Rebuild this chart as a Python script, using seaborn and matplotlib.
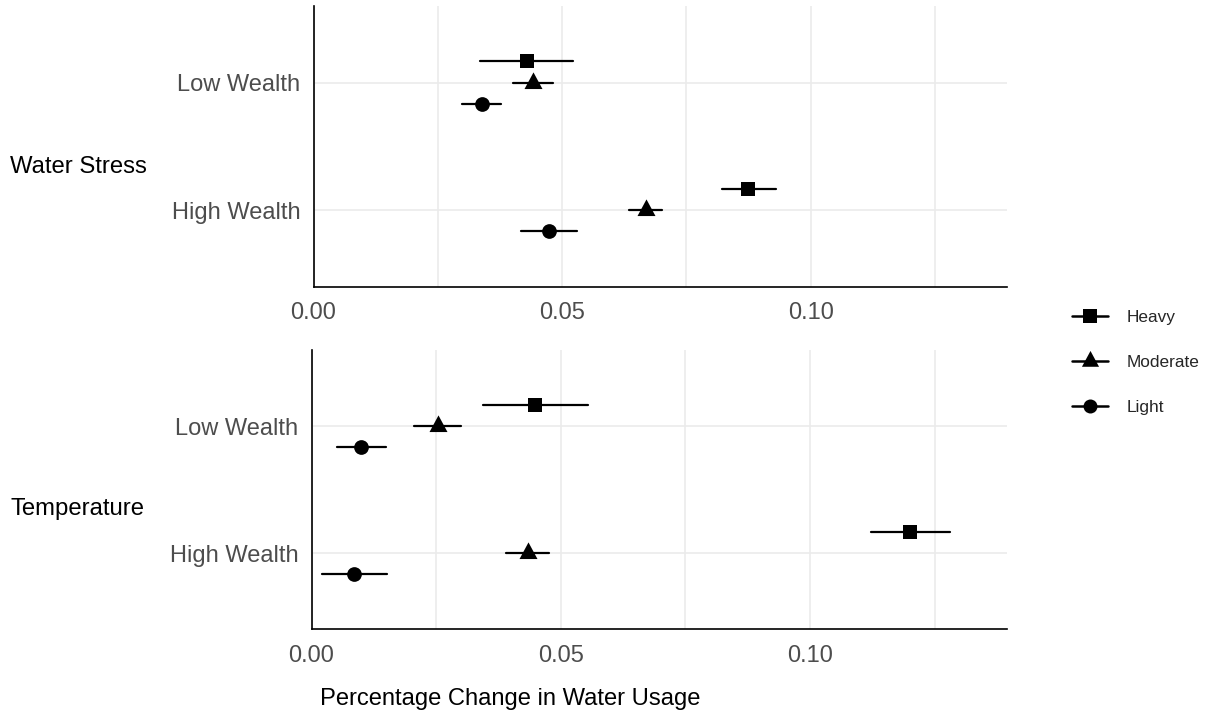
import numpy as np
import pandas as pd
import matplotlib
matplotlib.use("Agg")
import matplotlib.pyplot as plt
from matplotlib.lines import Line2D
import seaborn as sns

# ---------------- data ----------------
categories = ["Low Wealth", "High Wealth"]
series = ["Heavy", "Moderate", "Light"]
panels = ["Water Stress", "Temperature"]

# order: Low Wealth (Heavy, Moderate, Light), High Wealth (Heavy, Moderate, Light)
ws_est = [0.0429, 0.0442, 0.0338, 0.0875, 0.0668, 0.0474]
ws_low = [0.0335, 0.0402, 0.0299, 0.0822, 0.0635, 0.0418]
ws_high = [0.0522, 0.0481, 0.0378, 0.0930, 0.0702, 0.0531]

temp_est = [0.0449, 0.0253, 0.0100, 0.1201, 0.0434, 0.0086]
temp_low = [0.0343, 0.0205, 0.0051, 0.1123, 0.0391, 0.0022]
temp_high = [0.0554, 0.0300, 0.0150, 0.1281, 0.0477, 0.0151]

x_ticks = [0.00, 0.05, 0.10]
x_tick_labels = ["0.00", "0.05", "0.10"]
x_minor = [0.025, 0.075, 0.125]

# ---------------- style ----------------
sns.set_style("white")
plt.rcParams["font.family"] = ["Liberation Sans", "DejaVu Sans"]

TRI = [(0.0, 2 / 3), (-0.54, -1 / 3), (0.54, -1 / 3)]  # centroid-centred triangle
marker_map = {"Heavy": "s", "Moderate": TRI, "Light": "o"}
size_map = {"Heavy": 10.4, "Moderate": 16.0, "Light": 10.6}
palette = {s: "black" for s in series}


def long_frame(est, low, high):
    rows = []
    i = 0
    for c in categories:
        for s in series:
            for v in (low[i], est[i], high[i]):
                rows.append({"wealth": c, "intensity": s, "value": v})
            i += 1
    return pd.DataFrame(rows)


frames = [long_frame(ws_est, ws_low, ws_high), long_frame(temp_est, temp_low, temp_high)]

W, H = 1207, 713
fig = plt.figure(figsize=(W / 100, H / 100), dpi=100)

axes_px = [
    (313.5, 6.0, 1007.0, 286.7),
    (311.5, 350.0, 1007.0, 629.4),
]

grid_col = "#EBEBEB"
tick_col = "#4D4D4D"

for ax_px, df, title, base_y in zip(axes_px, frames, panels, [173.3, 515.0]):
    l, t, r, b = ax_px
    ax = fig.add_axes([l / W, (H - b) / H, (r - l) / W, (b - t) / H])
    sns.pointplot(
        data=df, x="value", y="wealth", hue="intensity",
        order=categories, hue_order=series, palette=palette,
        markers=[marker_map[s] for s in series], linestyles="none",
        dodge=1 / 3, estimator="median",
        errorbar=lambda v: (np.min(v), np.max(v)),
        markersize=10.4, markeredgewidth=0, linewidth=1.6,
        err_kws={"linewidth": 1.6}, legend=False, ax=ax,
    )
    # set per-series marker sizes
    for line in ax.lines:
        m = line.get_marker()
        if isinstance(m, str):
            if m == "s":
                line.set_markersize(size_map["Heavy"])
            elif m == "o":
                line.set_markersize(size_map["Light"])
        else:
            line.set_markersize(size_map["Moderate"])
        line.set_zorder(3)

    ax.set_xlim(0, 0.1395)
    ax.set_ylim(1.6, -0.6)
    ax.set_xticks(x_ticks)
    ax.set_xticklabels(x_tick_labels)
    ax.set_xticks(x_minor, minor=True)
    ax.set_yticks([0, 1])
    ax.set_yticklabels(categories)
    ax.grid(True, which="major", axis="both", color=grid_col, linewidth=1.2)
    ax.grid(True, which="minor", axis="x", color=grid_col, linewidth=1.2)
    ax.set_axisbelow(True)
    ax.tick_params(axis="both", which="both", length=0, labelsize=17, labelcolor=tick_col)
    ax.tick_params(axis="y", pad=9.5)
    ax.tick_params(axis="x", pad=11)
    for side in ("top", "right"):
        ax.spines[side].set_visible(False)
    for side in ("left", "bottom"):
        ax.spines[side].set_color("black")
        ax.spines[side].set_linewidth(1.2)
    ax.set_xlabel("")
    ax.set_ylabel("")
    fig.text(10.5 / W, (H - base_y) / H, title, fontsize=17.2, color="black",
             ha="left", va="baseline")

fig.text(510.4 / W, (H - 705.5) / H, "Percentage Change in Water Usage",
         fontsize=17.1, color="black", ha="center", va="baseline")

handles = [
    Line2D([0], [0], color="black", lw=1.8, marker=marker_map[s],
           markersize=size_map[s] * 0.95, markeredgewidth=0)
    for s in series
]
fig.legend(handles, series, loc="center left", bbox_to_anchor=(1072 / W, (H - 362.5) / H),
           frameon=False, fontsize=12.4, handlelength=2.1, handletextpad=1.1,
           labelspacing=1.75, borderpad=0, borderaxespad=0)

fig.savefig("out.png", dpi=100)
